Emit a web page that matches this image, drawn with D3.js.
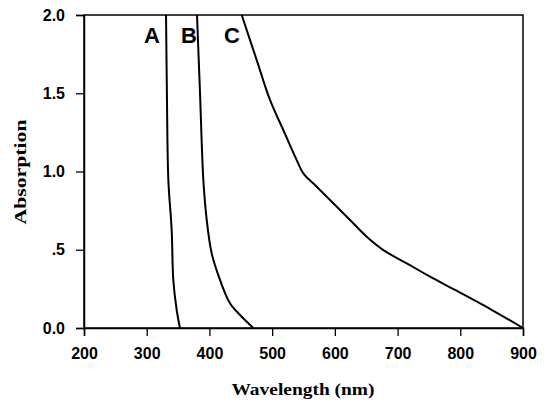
<!DOCTYPE html>
<html><head><meta charset="utf-8">
<script src="https://cdn.jsdelivr.net/npm/d3@7"></script>
<style>body{margin:0;background:#fff;}svg{display:block;}</style>
</head><body>
<svg id="c" width="550" height="402"></svg>
<script>
const xTicks = [200,300,400,500,600,700,800,900];
const yTicks = [0,0.5,1.0,1.5,2.0];
const yTickLabels = ["0.0",".5","1.0","1.5","2.0"];
const curveA = [[330.8,2.0],[332.2,1.5],[334.5,0.946],[339.8,0.626],[342.4,0.307],[347.8,0.115],[353,0]];
const curveB = [[380.2,2.0],[385,1.5],[390.3,0.946],[395.7,0.69],[403.6,0.477],[416.9,0.307],[432.8,0.158],[448.8,0.083],[470,0]];
const curveC = [[451.5,2.0],[475.4,1.712],[496.6,1.457],[517.8,1.265],[539.2,1.073],[549.7,0.988],[571.1,0.903],[597.5,0.797],[624.2,0.69],[650.8,0.583],[677.3,0.498],[714.6,0.413],[751,0.33],[791.6,0.243],[850.6,0.115],[900,0]];
const labels = ["A","B","C"];
const labelX = [152,189,232];

const svg = d3.select("#c");
const x = d3.scaleLinear().domain([200,900]).range([84,523]);
const y = d3.scaleLinear().domain([0,2]).range([328,15]);

const sans = "Arial, 'Liberation Sans', sans-serif";
const serif = "'Times New Roman', 'Liberation Serif', serif";

svg.append("rect").attr("x",84).attr("y",15).attr("width",439).attr("height",313)
  .attr("fill","none").attr("stroke","#000").attr("stroke-width",1.5);

const xa = svg.append("g").attr("transform","translate(0,328)")
  .call(d3.axisBottom(x).tickValues(xTicks).tickSize(8).tickPadding(12).tickFormat(d3.format("d")));
xa.select(".domain").attr("stroke-width",1.5);
xa.selectAll(".tick line").attr("stroke-width",1.3);
xa.selectAll("text").attr("font-family",sans).attr("font-weight","bold").attr("font-size",16).attr("fill","#000");

const ya = svg.append("g").attr("transform","translate(84,0)")
  .call(d3.axisLeft(y).tickValues(yTicks).tickSize(8).tickPadding(11).tickFormat((d,i)=>yTickLabels[i]));
ya.select(".domain").attr("stroke-width",1.5);
ya.selectAll(".tick line").attr("stroke-width",1.3);
ya.selectAll("text").attr("font-family",sans).attr("font-weight","bold").attr("font-size",16).attr("fill","#000");

const line = d3.line().x(d=>x(d[0])).y(d=>y(d[1])).curve(d3.curveCatmullRom.alpha(0.5));
[curveA,curveB,curveC].forEach(c=>{
  svg.append("path").attr("d",line(c)).attr("fill","none").attr("stroke","#000").attr("stroke-width",2);
});

labels.forEach((l,i)=>{
  svg.append("text").attr("x",labelX[i]).attr("y",43).attr("text-anchor","middle")
    .attr("font-family",sans).attr("font-weight","bold").attr("font-size",22).text(l);
});

svg.append("text").attr("x",303).attr("y",395).attr("text-anchor","middle")
  .attr("font-family",serif).attr("font-weight","bold").attr("font-size",17)
  .attr("textLength",143).attr("lengthAdjust","spacingAndGlyphs").text("Wavelength (nm)");

svg.append("text").attr("transform","translate(26,172) rotate(-90)").attr("text-anchor","middle")
  .attr("font-family",serif).attr("font-weight","bold").attr("font-size",16)
  .attr("textLength",105).attr("lengthAdjust","spacingAndGlyphs").text("Absorption");
</script>
</body></html>
